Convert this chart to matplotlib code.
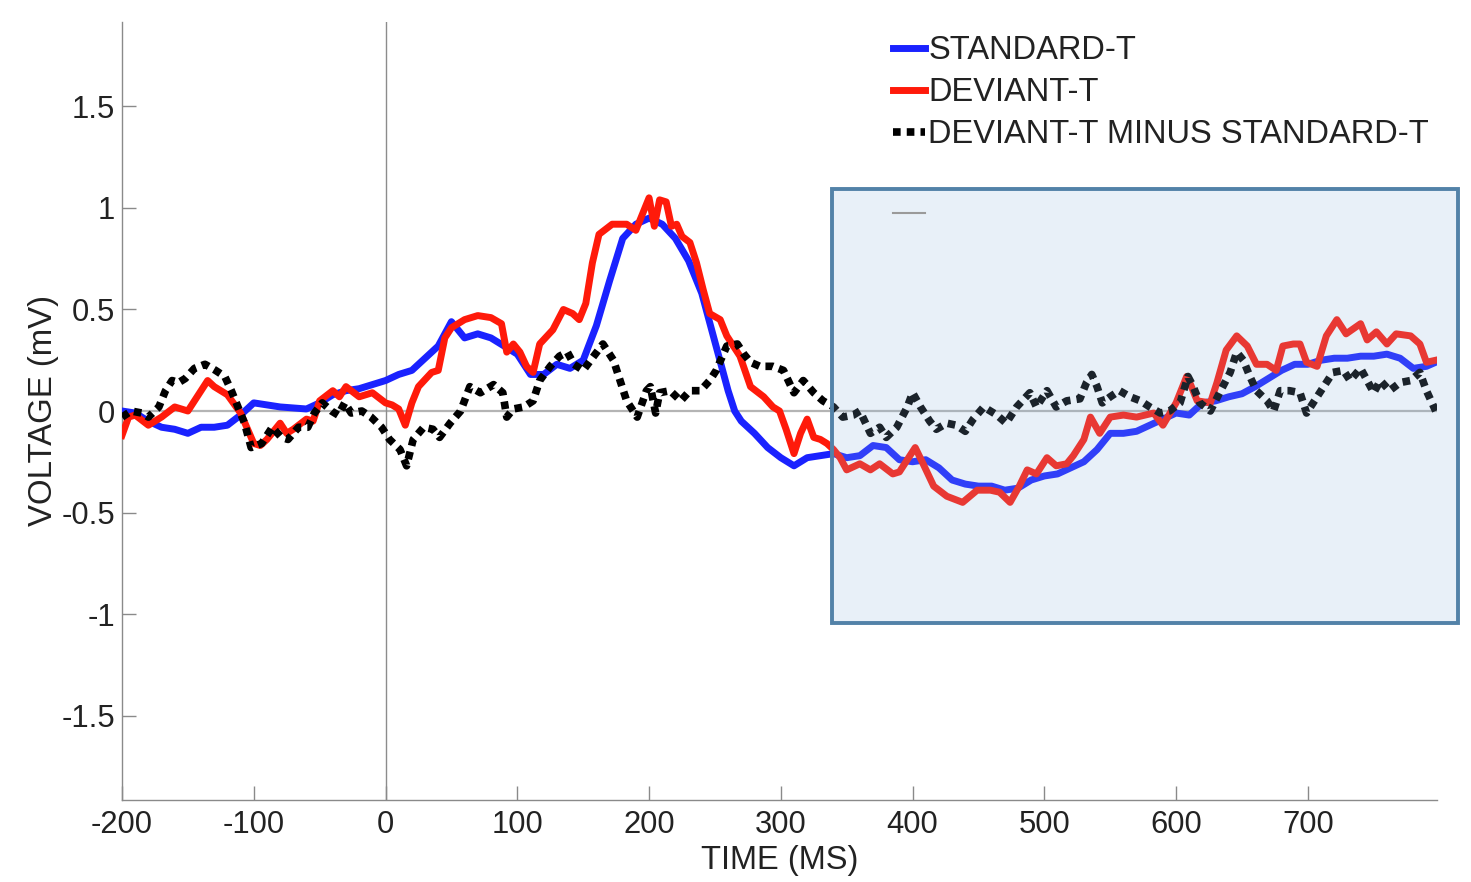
import matplotlib
matplotlib.use("Agg")
import matplotlib.pyplot as plt
from matplotlib.patches import Rectangle
from matplotlib.lines import Line2D

# ---------------- data ----------------
t_standard = [-200,-190,-180,-170,-160,-150,-140,-130,-120,-110,-100,-90,-80,-70,-60,-50,-40,-30,-20,-10,
              0,10,20,30,40,50,60,70,80,90,100,110,120,130,140,150,160,170,180,190,200,210,220,230,240,250,
              260,265,270,280,290,300,310,320,330,340,350,360,370,380,390,400,410,420,430,440,450,460,470,480,490,
              500,510,520,530,540,550,560,570,580,590,600,610,620,630,640,650,660,670,680,690,700,710,720,
              730,740,750,760,770,780,790,797]
v_standard = [0.0,-0.01,-0.05,-0.08,-0.09,-0.11,-0.08,-0.08,-0.07,-0.02,0.04,0.03,0.02,0.015,0.01,0.04,0.08,0.10,0.11,0.13,
              0.15,0.18,0.20,0.26,0.32,0.44,0.36,0.38,0.36,0.32,0.28,0.18,0.18,0.23,0.21,0.25,0.42,0.64,0.85,0.92,0.95,0.92,0.85,0.74,0.58,0.34,
              0.10,0.0,-0.05,-0.11,-0.18,-0.23,-0.27,-0.23,-0.22,-0.21,-0.23,-0.22,-0.17,-0.18,-0.24,-0.25,-0.24,-0.28,-0.34,-0.36,-0.37,-0.37,-0.39,-0.38,-0.34,
              -0.32,-0.31,-0.28,-0.25,-0.19,-0.11,-0.11,-0.10,-0.07,-0.04,-0.01,-0.02,0.04,0.05,0.07,0.085,0.12,0.16,0.20,0.23,0.23,0.25,0.26,
              0.26,0.27,0.27,0.28,0.26,0.21,0.22,0.24]

t_deviant = [-200,-195,-190,-180,-170,-160,-150,-140,-135,-130,-120,-110,-100,-95,-90,-80,-75,-70,-60,-55,-50,-40,-35,-30,-20,-10,
             0,5,10,15,20,25,35,40,45,50,60,70,80,88,92,97,102,107,112,117,127,135,142,147,152,157,162,172,183,190,195,200,
             204,208,213,217,221,225,231,236,241,246,254,259,264,269,277,287,294,299,304,310,315,320,325,330,335,340,345,350,
             360,368,375,385,390,396,402,408,416,426,438,449,459,466,474,481,487,494,502,509,517,522,530,535,542,550,560,570,
             583,590,600,608,611,616,626,631,638,646,654,661,669,676,681,689,694,699,707,714,722,729,740,745,752,760,767,778,
             785,790,797]
v_deviant = [-0.12,-0.03,-0.02,-0.07,-0.03,0.02,0.0,0.10,0.15,0.12,0.08,-0.01,-0.16,-0.17,-0.14,-0.06,-0.11,-0.09,-0.04,-0.05,0.05,0.10,0.07,0.12,0.07,0.09,
             0.04,0.03,0.01,-0.07,0.04,0.12,0.19,0.20,0.36,0.41,0.45,0.47,0.46,0.43,0.29,0.33,0.29,0.22,0.19,0.33,0.40,0.50,0.48,0.45,0.53,0.73,0.87,0.92,0.92,0.89,0.97,1.05,
             0.91,1.04,1.03,0.91,0.92,0.86,0.83,0.73,0.60,0.48,0.45,0.37,0.32,0.27,0.12,0.07,0.02,0.0,-0.09,-0.21,-0.11,-0.04,-0.13,-0.14,-0.16,-0.19,-0.23,-0.29,
             -0.26,-0.29,-0.26,-0.31,-0.30,-0.24,-0.18,-0.26,-0.37,-0.42,-0.45,-0.39,-0.39,-0.40,-0.45,-0.37,-0.29,-0.31,-0.23,-0.27,-0.26,-0.22,-0.14,-0.03,-0.11,-0.03,-0.02,-0.03,
             -0.01,-0.07,0.04,0.17,0.13,0.05,0.04,0.14,0.30,0.37,0.32,0.23,0.23,0.20,0.32,0.33,0.33,0.24,0.22,0.37,0.45,0.38,0.43,0.35,0.39,0.33,0.38,0.37,
             0.33,0.24,0.25]

t_diff = [-200,-193,-185,-180,-172,-167,-162,-157,-152,-145,-137,-129,-122,-117,-112,-107,-102,-94,-86,-79,-74,-66,-59,-54,-48,-41,-36,-31,-26,-18,-11,-3,
          3,11,16,21,29,36,41,49,57,64,72,82,89,92,97,105,112,117,125,132,138,143,150,158,165,173,178,183,191,198,201,205,208,216,224,231,239,246,
          251,259,267,272,277,284,294,302,310,317,325,332,340,347,355,360,368,375,380,388,396,400,406,413,418,426,433,440,446,454,464,471,479,489,
          494,502,509,517,527,532,536,540,544,550,557,565,573,580,588,595,603,609,613,618,626,633,641,646,651,656,661,669,674,679,686,694,699,704,
          712,719,727,732,740,745,750,755,762,770,778,785,790,797]
v_diff = [-0.03,0.0,-0.01,-0.03,0.02,0.10,0.15,0.14,0.16,0.21,0.23,0.20,0.17,0.10,0.02,-0.06,-0.18,-0.16,-0.08,-0.13,-0.14,-0.08,-0.08,-0.01,0.04,0.0,-0.02,0.04,-0.01,0.0,-0.03,-0.08,
          -0.14,-0.19,-0.27,-0.14,-0.08,-0.09,-0.13,-0.06,0.0,0.12,0.09,0.13,0.09,-0.03,0.01,0.02,0.05,0.15,0.22,0.27,0.29,0.23,0.20,0.27,0.33,0.25,0.15,0.05,-0.03,0.10,0.12,-0.01,0.09,0.10,0.05,0.10,0.10,0.15,
          0.20,0.32,0.33,0.28,0.24,0.22,0.22,0.20,0.09,0.15,0.09,0.05,0.02,-0.03,-0.02,0.0,-0.11,-0.08,-0.13,-0.08,0.02,0.09,0.02,-0.05,-0.09,-0.06,-0.07,-0.10,-0.04,0.02,-0.02,-0.06,0.02,0.09,
          0.02,0.10,0.02,0.05,0.06,0.14,0.18,0.12,0.04,0.07,0.10,0.07,0.05,0.02,-0.01,0.0,0.04,0.17,0.12,0.04,0.0,0.09,0.19,0.29,0.25,0.17,0.10,0.05,0.0,0.10,0.10,0.09,-0.01,0.04,
          0.12,0.19,0.20,0.15,0.21,0.15,0.09,0.15,0.10,0.14,0.15,0.19,0.10,0.0]

labels = ["STANDARD-T", "DEVIANT-T", "DEVIANT-T MINUS STANDARD-T"]
x_ticks = [-200, -100, 0, 100, 200, 300, 400, 500, 600, 700]
y_ticks = [-1.5, -1, -0.5, 0, 0.5, 1, 1.5]
y_ticklabels = ["-1.5", "-1", "-0.5", "0", "0.5", "1", "1.5"]

# ---------------- figure ----------------
plt.rcParams['font.family'] = ['Liberation Sans', 'DejaVu Sans']
W, H = 1471, 882
fig = plt.figure(figsize=(W / 100, H / 100), dpi=100)
fig.patch.set_facecolor('white')
ax = fig.add_axes([122 / W, 1 - 800 / H, (1437 - 122) / W, (800 - 22) / H])
ax.set_facecolor('none')

ax.set_xlim(-200, 798)
ax.set_ylim(-1.916, 1.916)

# reference lines
ax.axhline(0, color='#b4b4b4', lw=1.6, zorder=1)
ax.axvline(0, color='#8c8c8c', lw=1.0, zorder=1)

ax.plot(t_standard, v_standard, color='#1a22ff', lw=5, solid_joinstyle='round', label=labels[0], zorder=3)
ax.plot(t_deviant, v_deviant, color='#ff1a0a', lw=5, solid_joinstyle='round', label=labels[1], zorder=4)
ax.plot(t_diff, v_diff, color='black', lw=5.5, linestyle=(0, (1.0, 0.8)), dash_capstyle='butt',
        label=labels[2], zorder=5)

for s in ['top', 'right']:
    ax.spines[s].set_visible(False)
for s in ['left', 'bottom']:
    ax.spines[s].set_color('#8a8a8a')
    ax.spines[s].set_linewidth(1.0)

ax.set_xticks(x_ticks)
ax.set_xticklabels([str(v) for v in x_ticks])
ax.set_yticks(y_ticks)
ax.set_yticklabels(y_ticklabels)
ax.tick_params(axis='both', direction='in', length=10, width=1.0, color='#8a8a8a',
               labelsize=22.3, labelcolor='#222222')
ax.tick_params(axis='x', pad=7)
ax.tick_params(axis='y', pad=5)

ax.set_xlabel("TIME (MS)", fontsize=23.5, color='#222222', labelpad=4)
ax.set_ylabel("VOLTAGE (mV)", fontsize=23.8, color='#222222', labelpad=2)

leg = ax.legend(loc='upper left', bbox_to_anchor=(893 / W, 1 - 35 / H), bbox_transform=fig.transFigure,
                frameon=False, fontsize=23.5, handlelength=0.98, handletextpad=0.1, labelspacing=0.34,
                borderpad=0, borderaxespad=0)
for txt in leg.get_texts():
    txt.set_color('#222222')

# highlighted box overlay (figure coordinates)
box = Rectangle((832 / W, 1 - 623 / H), (1458 - 832) / W, (623 - 189) / H, transform=fig.transFigure,
                facecolor=(140 / 255, 180 / 255, 220 / 255, 0.2), edgecolor='#5282a8', lw=2.8, zorder=10)
fig.patches.append(box)
fig.lines.append(Line2D([893 / W, 925 / W], [1 - 213 / H, 1 - 213 / H], transform=fig.transFigure,
                        color='#9a9a9a', lw=1.5, zorder=11))

fig.savefig("out.png", dpi=100)
